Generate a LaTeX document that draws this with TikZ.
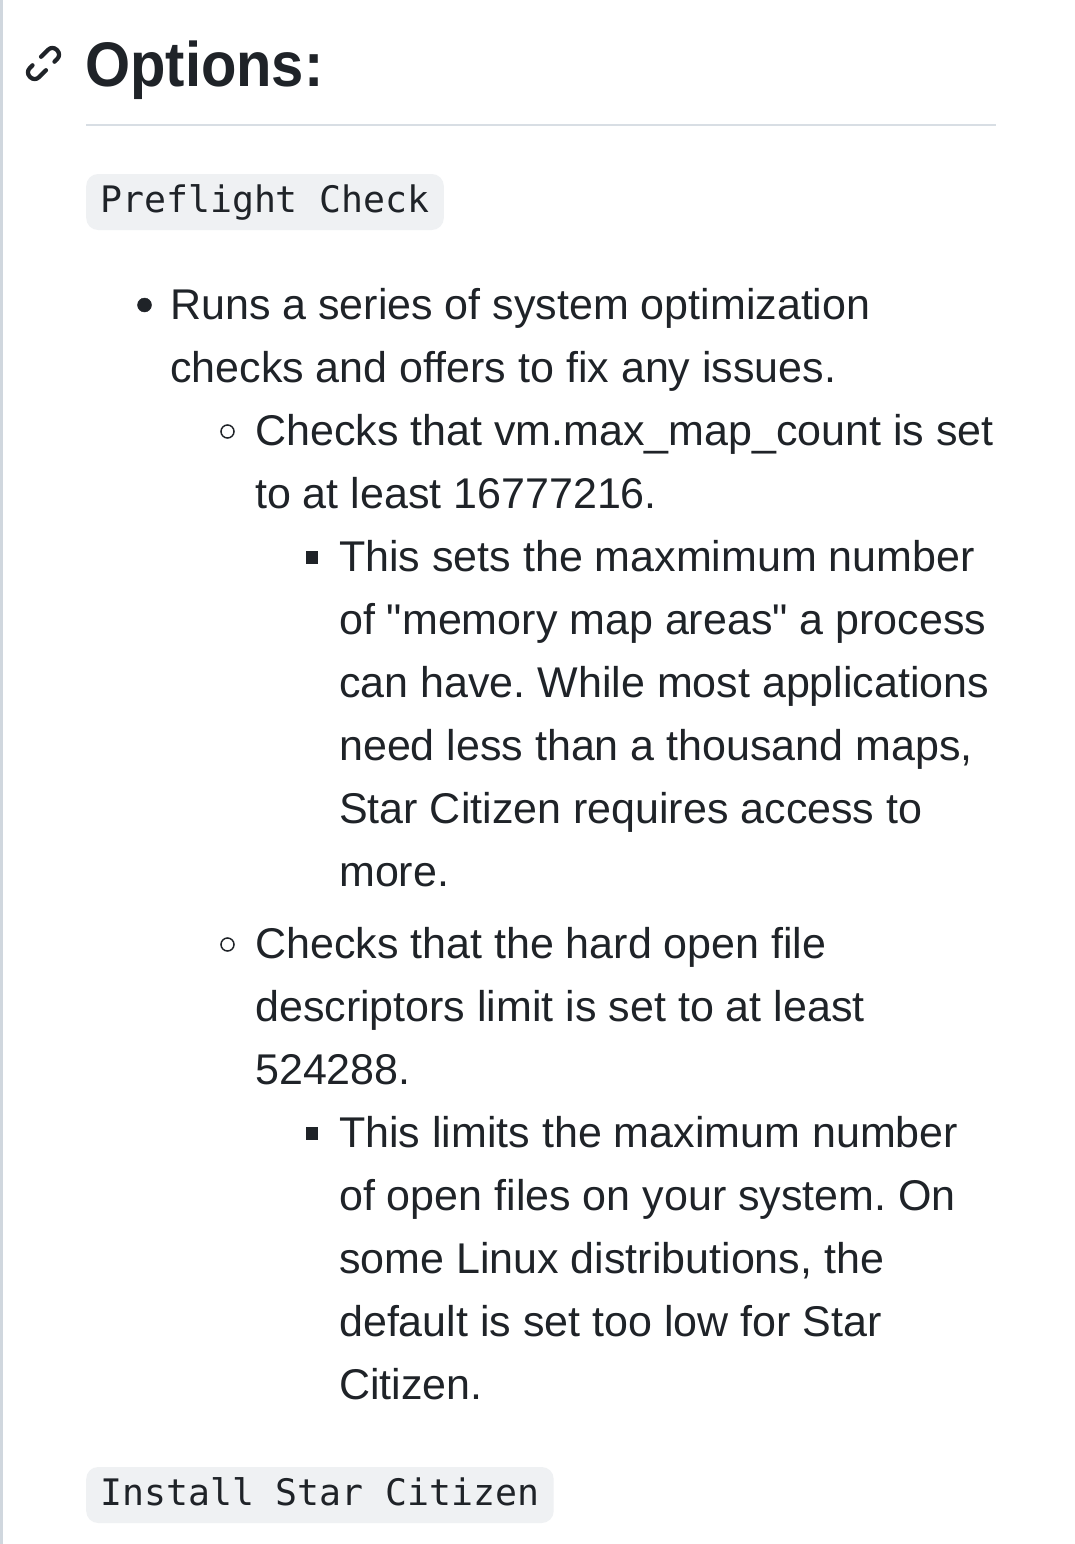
\documentclass[tikz,border=0pt]{standalone}
\usepackage{fontspec}
\setmainfont{Liberation Sans}
\setmonofont{DejaVu Sans Mono}
\newfontfamily\headfont{Liberation Sans}[FakeStretch=0.92]
\usetikzlibrary{positioning}
\frenchspacing

\definecolor{fgtext}{HTML}{1F2328}
\definecolor{codebg}{HTML}{EFF1F3}
\definecolor{rulegray}{HTML}{D8DEE4}
\definecolor{sidebar}{HTML}{D0D7DE}

\tikzset{
  txt/.style={anchor=base west, inner sep=0pt, text=fgtext, font=\fontsize{43}{63}\selectfont},
  codebox/.style={anchor=base west, fill=codebg, rounded corners=12pt, text=fgtext,
    font=\ttfamily\fontsize{36.5}{40}\selectfont, inner xsep=14pt, inner ysep=8pt,
    text height=30pt, text depth=10pt},
  link/.style={draw=fgtext, line width=4.2pt, rounded corners=6pt, line cap=round},
}

\begin{document}
\begin{tikzpicture}[x=1pt, y=-1pt]
                \useasboundingbox[fill=white] (0,0) rectangle (1074,1544);
                \fill[sidebar] (0,0) rectangle (3,1544);
                % heading
                \coordinate (icon) at (43.5, 63.5);
                \begin{scope}[shift={(icon)}, rotate=45]
                    \draw[link] (3,-6.5) -- (19,-6.5) -- (19,6.5) -- (9,6.5);
                    \draw[link] (-3,6.5) -- (-19,6.5) -- (-19,-6.5) -- (-9,-6.5);
                \end{scope}
                \node[anchor=base west, inner sep=0pt, text=fgtext, font=\headfont\bfseries\fontsize{63}{70}\selectfont] (head) at (85, 87) {Options:};
                \draw[rulegray, line width=2pt] (86,125) -- (996,125);
                \node[codebox] (preflight) at (86, 212) {Preflight Check};
                % first level
                \filldraw[fgtext] (144.5, 305) circle (7);
                \node[txt] (run1) at (170, 319) {Runs a series of system optimization};
                \node[txt] (run2) at (170, 382) {checks and offers to fix any issues.};
                % map count
                \draw[fgtext, line width=1.5pt] (227.5, 431.5) circle (6.5);
                \node[txt] (vm1) at (255, 445) {Checks that vm.max\_map\_count is set};
                \node[txt] (vm2) at (255, 508) {to at least 16777216.};
                \fill[fgtext] (305.5, 551) rectangle (318, 563.5);
                \node[txt] (map1) at (339, 571) {This sets the maxmimum number};
                \node[txt] (map2) at (339, 634) {of \textquotedbl memory map areas\textquotedbl{} a process};
                \node[txt] (map3) at (339, 697) {can have. While most applications};
                \node[txt] (map4) at (339, 760) {need less than a thousand maps,};
                \node[txt] (map5) at (339, 823) {Star Citizen requires access to};
                \node[txt] (map6) at (339, 886) {more.};
                % file descriptors
                \draw[fgtext, line width=1.5pt] (227.5, 944.5) circle (6.5);
                \node[txt] (fd1) at (255, 958) {Checks that the hard open file};
                \node[txt] (fd2) at (255, 1021) {descriptors limit is set to at least};
                \node[txt] (fd3) at (255, 1084) {524288.};
                \fill[fgtext] (305.5, 1127) rectangle (318, 1139.5);
                \node[txt] (lim1) at (339, 1147) {This limits the maximum number};
                \node[txt] (lim2) at (339, 1210) {of open files on your system. On};
                \node[txt] (lim3) at (339, 1273) {some Linux distributions, the};
                \node[txt] (lim4) at (339, 1336) {default is set too low for Star};
                \node[txt] (lim5) at (339, 1399) {Citizen.};
                \node[codebox] (install) at (86, 1505) {Install Star Citizen};
            \end{tikzpicture}
\end{document}
